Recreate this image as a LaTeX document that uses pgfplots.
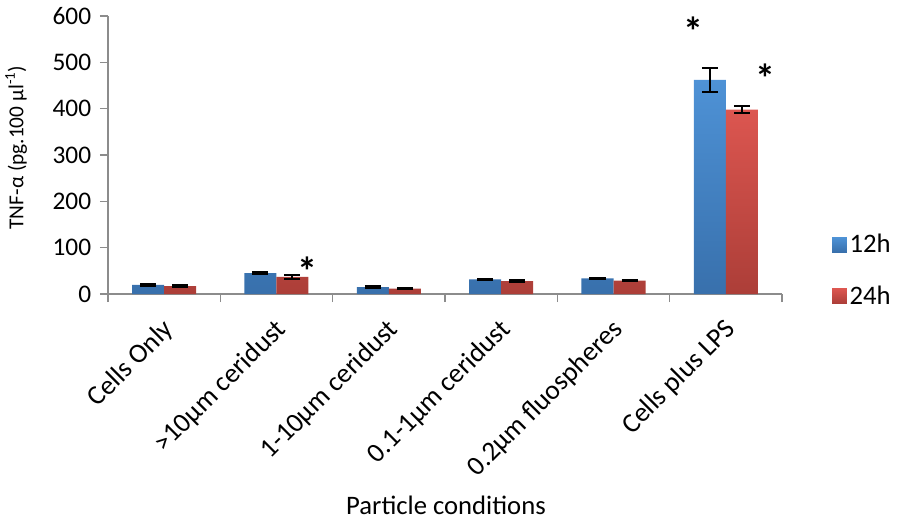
\documentclass[border=0pt]{standalone}
\usepackage{fontspec}
\setmainfont{Carlito}
\usepackage{pgfplots}
\pgfplotsset{compat=1.18}

\definecolor{blueTop}{RGB}{78,146,214}
\definecolor{blueBot}{RGB}{56,112,172}
\definecolor{redTop}{RGB}{220,86,80}
\definecolor{redBot}{RGB}{172,62,56}
\definecolor{axisgray}{RGB}{140,140,140}

\begin{document}
\begin{tikzpicture}[x=0.75pt,y=0.75pt]
\begin{axis}[
  scale only axis,
  width=505.5pt, height=208.5pt,
  /pgf/number format/assume math mode=true,
  font=\fontsize{19}{22}\selectfont,
  axis lines=left,
  axis line style={-, draw=axisgray, line width=1pt},
  ymin=0, ymax=600, ytick={0,100,...,600},
  xmin=-0.5, xmax=5.5,
  xtick={0,...,5},
  xticklabels={Cells Only,>10µm ceridust,1-10µm ceridust,0.1-1µm ceridust,0.2µm fluospheres,Cells plus LPS},
  minor xtick={-0.5,0.5,...,5.5},
  major x tick style={draw=none},
  minor x tick style={draw=axisgray, line width=1pt},
  y tick style={draw=axisgray, line width=1pt},
  tick align=outside,
  major tick length=6pt, minor tick length=6pt,
  xticklabel style={rotate=45, anchor=north east, xshift=-6pt, yshift=-3pt,
    font=\fontsize{20.5}{23}\selectfont},
  yticklabel style={xshift=-3pt},
  ybar=0pt, bar width=24pt,
  ylabel={TNF-α (pg.100 µl\textsuperscript{-1})},
  ylabel style={at={(axis description cs:-0.136,0.527)}, anchor=center, font=\fontsize{16}{19}\selectfont},
  xlabel={Particle conditions},
  xlabel style={at={(axis description cs:0.5015,-0.759)}, anchor=center, font=\fontsize{20}{23}\selectfont},
  legend style={draw=none, fill=none, at={(axis description cs:1.074,0.225)}, anchor=north west,
    font=\fontsize{20}{23}\selectfont, row sep=19pt, inner sep=0pt},
  legend cell align=left,
  legend image code/.code={\path[#1,draw=none] (0pt,-5.5pt) rectangle (11pt,5.5pt);},
  error bars/error bar style={black, line width=1.5pt},
  error bars/error mark options={black, line width=1.5pt, mark size=6pt, rotate=90},
  clip=false,
]
\addplot[draw=none, top color=blueTop, bottom color=blueBot,
  error bars/.cd, y dir=both, y explicit]
  coordinates {
    (0,20) +- (0,2)
    (1,45) +- (0,2)
    (2,15) +- (0,1.5)
    (3,32) +- (0,1.5)
    (4,34) +- (0,1.5)
    (5,462) +- (0,25)
  };
\addplot[draw=none, top color=redTop, bottom color=redBot,
  error bars/.cd, y dir=both, y explicit]
  coordinates {
    (0,17) +- (0,2)
    (1,37) +- (0,5)
    (2,12) +- (0,1.5)
    (3,28) +- (0,1.5)
    (4,29) +- (0,1.5)
    (5,398) +- (0,8)
  };
\legend{12h,24h}
% significance markers
\node[font=\fontsize{30}{30}\bfseries] at (axis cs:4.71,568) {*};
\node[font=\fontsize{30}{30}\bfseries] at (axis cs:5.35,466) {*};
\node[font=\fontsize{30}{30}\bfseries] at (axis cs:1.28,50) {*};
% page extent
\path (rel axis cs:-0.160,1.0576) rectangle (rel axis cs:1.172,-0.831);
\end{axis}
\end{tikzpicture}
\end{document}
